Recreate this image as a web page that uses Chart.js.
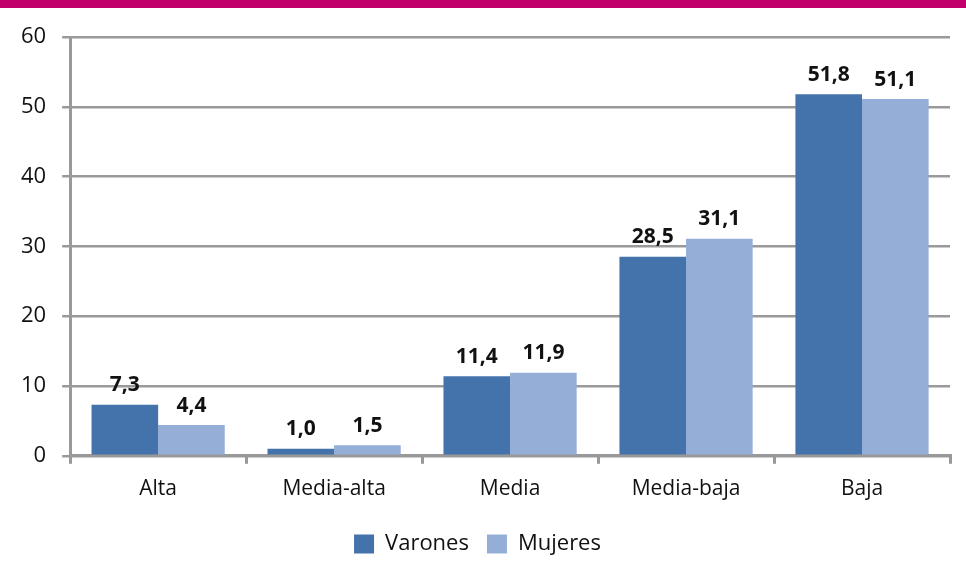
<!DOCTYPE html>
<html><head><meta charset="utf-8">
<script src="https://cdn.jsdelivr.net/npm/chart.js@4/dist/chart.umd.min.js"></script>
<style>
html,body{margin:0;padding:0;background:#fff;}
#wrap{position:relative;width:966px;height:565px;}
#topbar{position:absolute;left:0;top:0;width:966px;height:8px;background:#c2006b;}
canvas{position:absolute;left:0;top:0;}
</style></head>
<body><div id="wrap"><canvas id="c" width="966" height="565"></canvas><div id="topbar"></div></div>
<script>
const categories = ["Alta","Media-alta","Media","Media-baja","Baja"];
const varones = [7.3,1.0,11.4,28.5,51.8];
const mujeres = [4.4,1.5,11.9,31.1,51.1];
const seriesNames = ["Varones","Mujeres"];
const yTicks = [0,10,20,30,40,50,60];

const fontFam = "'Open Sans', 'DejaVu Sans', sans-serif";
const labelPlugin = {
  id:'valLabels',
  afterDatasetsDraw(chart){
    const ctx = chart.ctx;
    ctx.save();
    ctx.font = "bold 21px " + fontFam;
    ctx.fillStyle = "#111";
    ctx.textAlign = "center";
    ctx.textBaseline = "bottom";
    chart.data.datasets.forEach((ds,i)=>{
      chart.getDatasetMeta(i).data.forEach((bar,j)=>{
        ctx.fillText(ds.data[j].toFixed(1).replace('.',','), bar.x, bar.y - 9);
      });
    });
    ctx.restore();
  }
};
new Chart(document.getElementById('c'),{
  type:'bar',
  data:{labels:categories,datasets:[
    {label:seriesNames[0],data:varones,backgroundColor:'#4472aa',borderWidth:0},
    {label:seriesNames[1],data:mujeres,backgroundColor:'#94aed8',borderWidth:0}
  ]},
  options:{
    responsive:false,animation:false,
    layout:{padding:{left:5,right:16,top:37,bottom:0}},
    datasets:{bar:{barPercentage:1,categoryPercentage:0.757}},
    plugins:{
      legend:{position:'bottom',labels:{font:{size:22,family:fontFam},color:'#111',boxWidth:20,boxHeight:19,padding:18,useBorderRadius:false}},
      tooltip:{enabled:false}
    },
    scales:{
      x:{
        grid:{display:true,drawOnChartArea:false,drawTicks:true,tickLength:8,color:'#999',lineWidth:3,offset:true},
        border:{display:true,color:'#999',width:3},
        ticks:{font:{size:21,family:fontFam},color:'#111',padding:13}
      },
      y:{
        min:0,max:60,
        afterBuildTicks(axis){axis.ticks = yTicks.map(v=>({value:v}));},
        grid:{color:'#9a9a9a',lineWidth:2.5,tickLength:8},
        border:{display:true,color:'#999',width:3},
        ticks:{font:{size:22,family:fontFam},color:'#111',padding:16}
      }
    }
  },
  plugins:[labelPlugin]
});
</script></body></html>
